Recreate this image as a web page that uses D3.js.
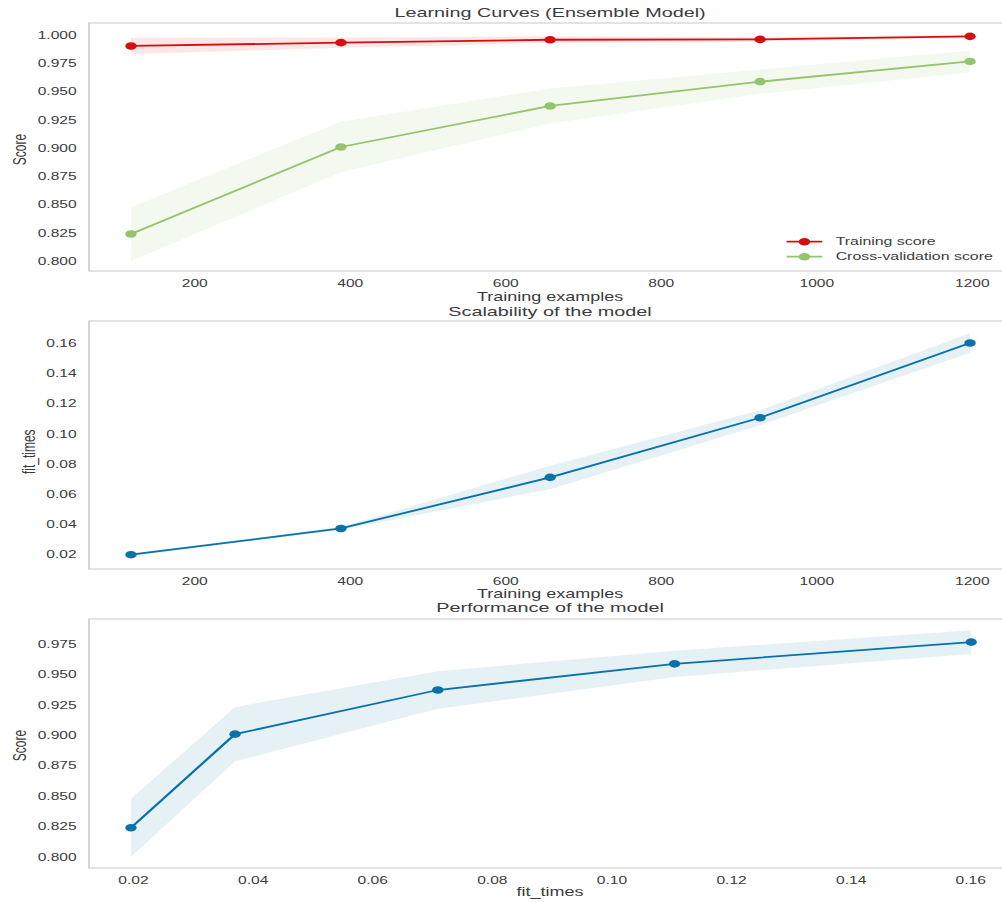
<!DOCTYPE html>
<html>
<head>
<meta charset="utf-8">
<script src="https://cdn.jsdelivr.net/npm/d3@7"></script>
<style>
  html, body { margin: 0; padding: 0; background: #fff; overflow: hidden; }
  svg { display: block; }
</style>
</head>
<body>
<svg id="chart" width="1002" height="902" viewBox="0 0 668 902" preserveAspectRatio="none"></svg>
<script>
// Learning-curve results (3-fold CV, 5 training sizes)
const trainSizes = [119, 389, 658, 928, 1198];
const trainScoreMean = [0.9903, 0.9932, 0.9958, 0.9961, 0.9988];
const trainScoreStd = [0.0072, 0.0045, 0.0030, 0.0020, 0.0012];
const testScoreMean = [0.8239, 0.9009, 0.9372, 0.9587, 0.9766];
const testScoreStd = [0.0238, 0.0224, 0.0155, 0.0108, 0.0097];
const fitTimesMean = [0.0197, 0.0371, 0.0710, 0.1106, 0.1602];
const fitTimesStd = [0.0008, 0.0010, 0.0078, 0.0050, 0.0065];

// Tick labels
const sizeTicks = [200, 400, 600, 800, 1000, 1200];
const scoreTicksTop = [0.800, 0.825, 0.850, 0.875, 0.900, 0.925, 0.950, 0.975, 1.000];
const fitTimeTicks = [0.02, 0.04, 0.06, 0.08, 0.10, 0.12, 0.14, 0.16];
const scoreTicksBottom = [0.800, 0.825, 0.850, 0.875, 0.900, 0.925, 0.950, 0.975];

// Legend entries
const legendLabels = ["Training score", "Cross-validation score"];

const RED = "#d40f0f";
const GREEN = "#96c36e";
const BLUE = "#0a72a8";
const FONT = "'Liberation Sans', Arial, sans-serif";
const TEXT = "#3c3c3c";

const svg = d3.select("#chart");
const xLeft = 59.33, xRight = 674.67;

function rows(xs, mean, std) {
  return xs.map((v, i) => ({ x: v, m: mean[i], lo: mean[i] - std[i], hi: mean[i] + std[i] }));
}

function drawPanel(p) {
  const g = svg.append("g");
  const x = d3.scaleLinear().domain(p.xDomain).range([xLeft, xRight]);
  const y = d3.scaleLinear().domain(p.yDomain).range([p.bottom, p.top]);

  // axes frame
  g.append("rect")
    .attr("x", xLeft).attr("y", p.top)
    .attr("width", xRight - xLeft).attr("height", p.bottom - p.top)
    .attr("fill", "none").attr("stroke", "#d4d4d4").attr("stroke-width", 1.3);

  // y axis
  const ya = g.append("g")
    .attr("transform", `translate(${xLeft},0)`)
    .call(d3.axisLeft(y).tickValues(p.yTicks).tickFormat(d3.format(p.yFmt)).tickSize(0).tickPadding(8.2));
  ya.select(".domain").remove();
  ya.attr("font-family", FONT).attr("font-size", 10.4);
  ya.selectAll("text").attr("fill", TEXT);

  // x axis
  const xa = g.append("g")
    .attr("transform", `translate(0,${p.bottom})`)
    .call(d3.axisBottom(x).tickValues(p.xTicks).tickFormat(d3.format(p.xFmt)).tickSize(0).tickPadding(8.6));
  xa.select(".domain").remove();
  xa.attr("font-family", FONT).attr("font-size", 10.4);
  xa.selectAll("text").attr("fill", TEXT);

  // series: band, line, markers
  p.series.forEach(s => {
    const data = rows(s.xs, s.mean, s.std);
    g.append("path").datum(data)
      .attr("d", d3.area().x(d => x(d.x)).y0(d => y(d.lo)).y1(d => y(d.hi)))
      .attr("fill", s.color).attr("fill-opacity", 0.1);
  });
  p.series.forEach(s => {
    const data = rows(s.xs, s.mean, s.std);
    g.append("path").datum(data)
      .attr("d", d3.line().x(d => x(d.x)).y(d => y(d.m)))
      .attr("fill", "none").attr("stroke", s.color).attr("stroke-width", 1.8);
    g.selectAll(null).data(data).enter().append("circle")
      .attr("cx", d => x(d.x)).attr("cy", d => y(d.m)).attr("r", 3.8)
      .attr("fill", s.color);
  });

  // title
  g.append("text")
    .attr("x", (xLeft + xRight) / 2 - 0.3).attr("y", p.titleY)
    .attr("text-anchor", "middle")
    .attr("font-family", FONT).attr("font-size", 13.2).attr("fill", TEXT)
    .text(p.title);

  // x label
  g.append("text")
    .attr("x", (xLeft + xRight) / 2 - 0.3).attr("y", p.xLabelY)
    .attr("text-anchor", "middle")
    .attr("font-family", FONT).attr("font-size", 12).attr("fill", TEXT)
    .text(p.xLabel);

  // y label
  g.append("text")
    .attr("transform", `translate(${p.yLabelX},${p.yLabelCY}) rotate(-90)`)
    .attr("text-anchor", "middle")
    .attr("font-family", FONT).attr("font-size", 12).attr("fill", TEXT)
    .text(p.yLabel);

  return { g, x, y };
}

const learningPanel = drawPanel({
  top: 23, bottom: 271,
  xDomain: [65, 1252], yDomain: [0.7912, 1.0106],
  xTicks: sizeTicks, yTicks: scoreTicksTop, xFmt: "d", yFmt: ".3f",
  title: "Learning Curves (Ensemble Model)", titleY: 16.8,
  xLabel: "Training examples", xLabelY: 301.2,
  yLabel: "Score", yLabelX: 17.6, yLabelCY: 149.5,
  series: [
    { xs: trainSizes, mean: trainScoreMean, std: trainScoreStd, color: RED },
    { xs: trainSizes, mean: testScoreMean, std: testScoreStd, color: GREEN }
  ]
});

drawPanel({
  top: 321, bottom: 569,
  xDomain: [65, 1252], yDomain: [0.0102, 0.1748],
  xTicks: sizeTicks, yTicks: fitTimeTicks, xFmt: "d", yFmt: ".2f",
  title: "Scalability of the model", titleY: 316,
  xLabel: "Training examples", xLabelY: 598.2,
  yLabel: "fit_times", yLabelX: 23.2, yLabelCY: 451.7,
  series: [
    { xs: trainSizes, mean: fitTimesMean, std: fitTimesStd, color: BLUE }
  ]
});

drawPanel({
  top: 619, bottom: 868,
  xDomain: [0.01268, 0.16702], yDomain: [0.7908, 0.9956],
  xTicks: fitTimeTicks, yTicks: scoreTicksBottom, xFmt: ".2f", yFmt: ".3f",
  title: "Performance of the model", titleY: 612.5,
  xLabel: "fit_times", xLabelY: 896,
  yLabel: "Score", yLabelX: 17.6, yLabelCY: 745.5,
  series: [
    { xs: fitTimesMean, mean: testScoreMean, std: testScoreStd, color: BLUE }
  ]
});

// legend (lower right of the learning-curve panel)
const legend = learningPanel.g.append("g").attr("font-family", FONT).attr("font-size", 10.6);
const legendColors = [RED, GREEN];
const legendRowY = [241.7, 256.7];
legendLabels.forEach((label, i) => {
  const row = legend.append("g").attr("transform", `translate(0,${legendRowY[i]})`);
  row.append("line").attr("x1", 524.4).attr("x2", 548.2).attr("y1", 0).attr("y2", 0)
    .attr("stroke", legendColors[i]).attr("stroke-width", 1.8);
  row.append("circle").attr("cx", 536.3).attr("cy", 0).attr("r", 3.8).attr("fill", legendColors[i]);
  row.append("text").attr("x", 557.1).attr("y", 0).attr("dy", "0.35em")
    .attr("fill", TEXT).text(label);
});
</script>
</body>
</html>
